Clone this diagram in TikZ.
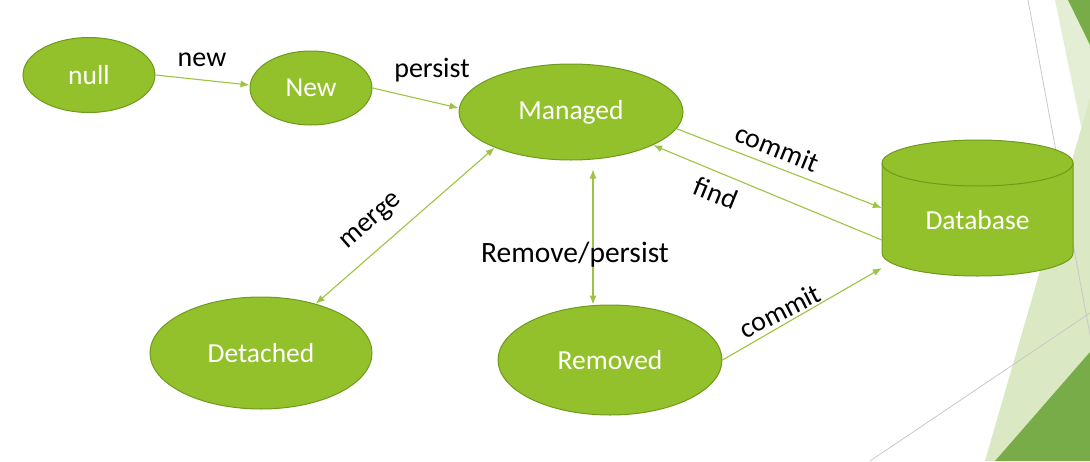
\documentclass[tikz,border=0pt]{standalone}
\usepackage{fontspec}
\setmainfont{Carlito}
\usetikzlibrary{shapes.geometric,arrows.meta,calc}
\definecolor{nodefill}{HTML}{93C12B}
\definecolor{nodeedge}{HTML}{6E9A1E}
\definecolor{linkcol}{HTML}{9CC440}
\definecolor{bgline}{HTML}{C8C8C8}
\definecolor{facetlight}{HTML}{E4EED5}
\definecolor{facetmid}{HTML}{DAE8C3}
\definecolor{facetdark}{HTML}{77AC48}
\tikzset{
  statenode/.style={ellipse, fill=nodefill, draw=nodeedge, line width=1pt, inner sep=0pt,
    text=white, font=\fontsize{27.5}{32}\selectfont},
  lbl/.style={inner sep=0pt, text=black, font=\fontsize{28}{32}\selectfont},
  arr/.style={draw=linkcol, line width=1.1pt, -{Latex[length=9pt,width=7pt]}},
  darr/.style={draw=linkcol, line width=1.1pt, {Latex[length=9pt,width=7pt]}-{Latex[length=9pt,width=7pt]}},
}
\begin{document}
\begin{tikzpicture}[x=1pt,y=-1pt]
\useasboundingbox (0,0) rectangle (1090,461);
% background facets
\fill[facetlight] (1055,0) -- (1090,0) -- (1090,170) -- cycle;
\fill[facetdark] (1068,0) -- (1090,0) -- (1090,45) -- cycle;
\fill[facetmid] (1090,98) -- (985,461) -- (1090,461) -- cycle;
\fill[facetdark] (1090,352) -- (995,461) -- (1090,461) -- cycle;
\draw[bgline, line width=0.8pt] (1028,0) -- (1090,335);
\draw[bgline, line width=0.8pt] (870,461) -- (1090,313);

% database cylinder
\path[fill=nodefill, draw=nodeedge, line width=1pt]
  (882,163) -- (882,253) arc[start angle=180, end angle=0, x radius=95.5, y radius=23]
  -- (1073,163) arc[start angle=0, end angle=-180, x radius=95.5, y radius=23] -- cycle;
\draw[nodeedge, line width=1pt] (882,163) arc[start angle=180, end angle=0, x radius=95.5, y radius=23];
\node[inner sep=0pt, minimum width=191pt, minimum height=114pt, text=white,
  font=\fontsize{27.5}{32}\selectfont] (db) at (977.5,220) {Database};

% states
\node[statenode, minimum width=132pt, minimum height=75pt] (null) at (89,75) {null};
\node[statenode, minimum width=122pt, minimum height=74pt] (new) at (311,88) {New};
\node[statenode, minimum width=224pt, minimum height=96pt] (man) at (571,112) {Managed};
\node[statenode, minimum width=222pt, minimum height=112pt] (det) at (261,353) {Detached};
\node[statenode, minimum width=224pt, minimum height=110pt] (rem) at (610,360) {Removed};

% connectors
\draw[arr] (null.east) -- ([yshift=3pt]new.west);
\draw[arr] (new.east) -- ([yshift=4pt]man.west);
\draw[arr] (man.-9) -- ([yshift=12pt]db.west);
\draw[arr] ([yshift=-20pt]db.west) -- (man.-22);
\draw[darr] ([xshift=22pt,yshift=-9pt]man.south) -- ([xshift=-17pt]rem.north);
\draw[darr] (det.42) -- (man.205);
\draw[arr] (rem.east) -- ([yshift=-48pt]db.west);

% labels
\node[lbl] (lnew) at (202,60) {new};
\node[lbl] (lpersist) at (432,70) {persist};
\node[lbl, rotate=-22] (lcommit) at (777,148) {commit};
\node[lbl, rotate=-22] (lfind) at (716,193) {find};
\node[lbl, rotate=41] (lmerge) at (372,222) {merge};
\node[lbl, font=\fontsize{29.5}{34}\selectfont] (lrp) at (575,255) {Remove/persist};
\node[lbl, rotate=27] (lcommit2) at (780,311) {commit};
\end{tikzpicture}
\end{document}
